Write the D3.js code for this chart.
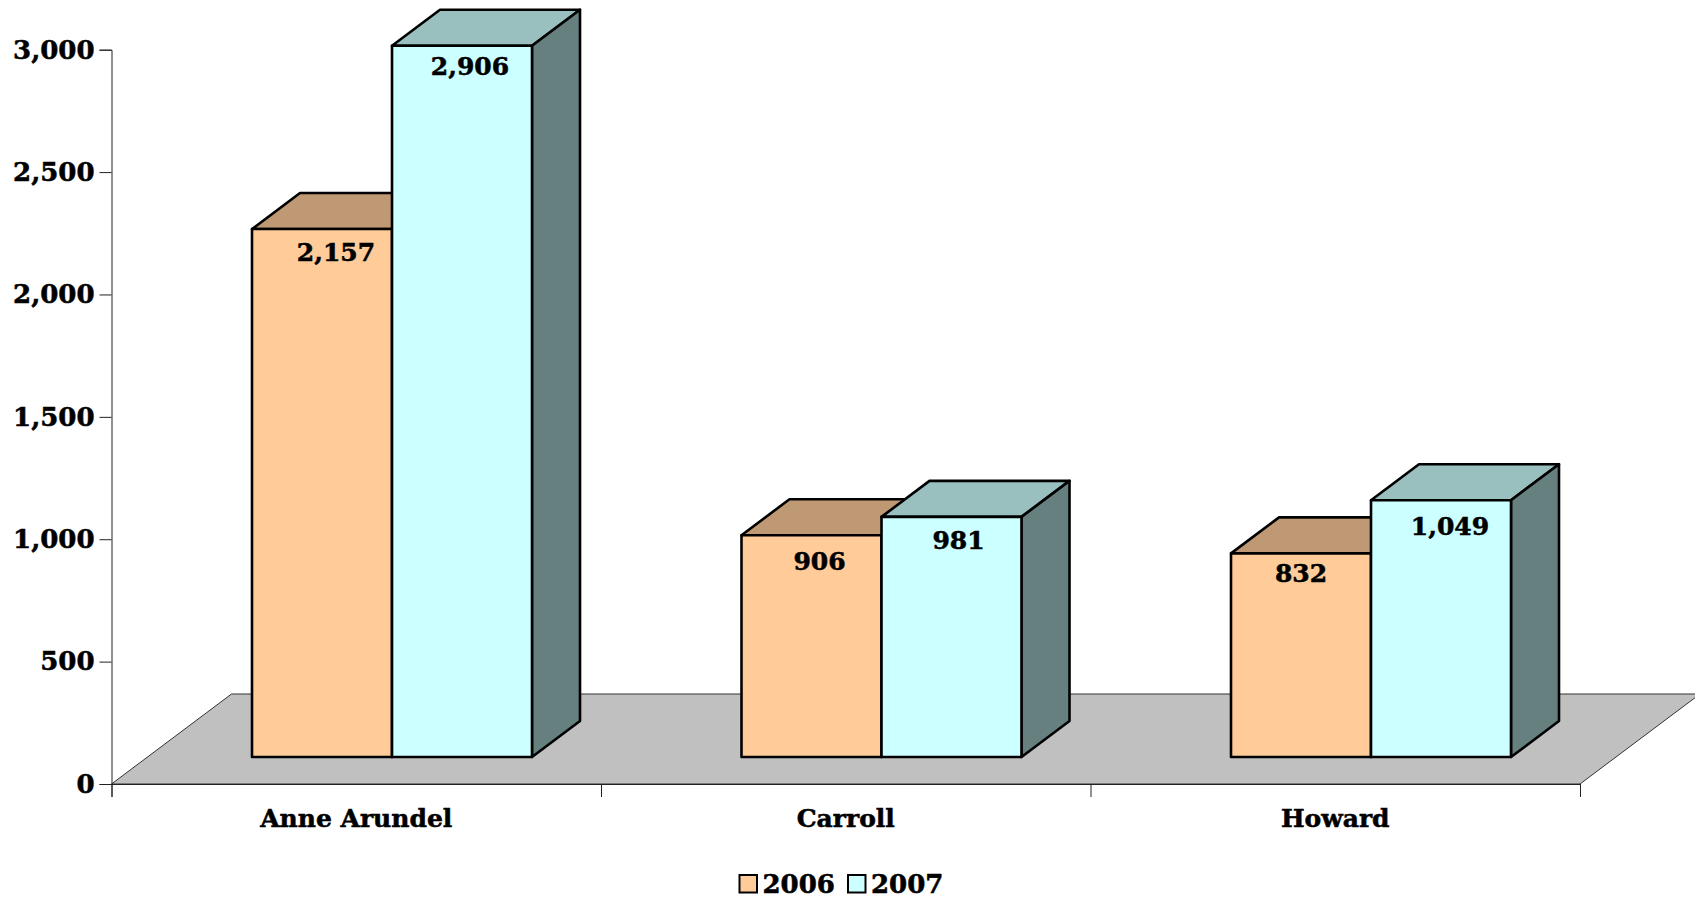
<!DOCTYPE html>
<html><head><meta charset="utf-8">
<script src="https://cdn.jsdelivr.net/npm/d3@7"></script>
<style>
html,body{margin:0;padding:0;background:#fff;overflow:hidden}
svg{display:block}
text{font-family:"DejaVu Serif",serif;font-weight:700;fill:#000;stroke:#000;stroke-width:0.55px}
</style></head><body>
<script>
const categories = ["Anne Arundel", "Carroll", "Howard"];
const seriesNames = ["2006", "2007"];
const values2006 = [2157, 906, 832];
const values2007 = [2906, 981, 1049];
const yTicks = [0, 500, 1000, 1500, 2000, 2500, 3000];

const seriesColors = ["#FFCC99", "#CCFFFF"];
const W = 1695, H = 899;
const y0 = 784, y3000 = 49.7, xL = 111.5, xR = 1580;
const floorDx = 120, floorDy = 90;          // oblique floor depth
const frontDx = 36, frontDy = 27;           // gap from axis plane to bar front
const barDx = 48, barDy = 36;               // bar depth
const barW = 140;
// label nudges [series][category] relative to bar centre / top
const nudgeX = [[14, 8, 0], [8, 7, 9]];
const nudgeY = [[23, 26, 20], [20, 23, 26]];

const svg = d3.select("body").append("svg").attr("width", W).attr("height", H);

const x = d3.scaleBand().domain(categories).range([xL, xR]);
const xEdge = d3.scaleLinear().domain([0, categories.length]).range([xL, xR]);
const y = d3.scaleLinear().domain([0, 3000]).range([y0, y3000]);

// floor
svg.append("path")
  .attr("d", d3.line()([[xL, y0], [xL + floorDx, y0 - floorDy], [xR + floorDx, y0 - floorDy], [xR, y0]]) + "Z")
  .attr("fill", "#C0C0C0").attr("stroke", "#333").attr("stroke-width", 1);

// axes
const gy = svg.append("g").attr("transform", `translate(${xL},0)`)
  .call(d3.axisLeft(y).tickValues(yTicks).tickSize(12).tickPadding(5).tickFormat(d3.format(",")));
gy.selectAll("text").attr("font-size", 26).style("font-family", '"DejaVu Serif",serif').style("font-weight", 700);
const gx = svg.append("g").attr("transform", `translate(0,${y0})`)
  .call(d3.axisBottom(xEdge).tickValues(d3.range(categories.length + 1)).tickSize(13).tickFormat(""));
[gy, gx].forEach(g => g.selectAll("path,line").attr("stroke", "#222").attr("stroke-width", 1));

svg.append("g").selectAll("text").data(categories).join("text")
  .attr("x", d => x(d) + x.bandwidth() / 2)
  .attr("y", 818)
  .attr("dy", "0.36em")
  .attr("text-anchor", "middle")
  .attr("font-size", 25)
  .text(d => d);

// bars
const rows = [values2006, values2007];
const fmt = d3.format(",");
const groupOffset = 140.5;
const shade = (c, k) => { const r = d3.rgb(c); return d3.rgb(r.r * k, r.g * k, r.b * k).formatHex(); };
const line = d3.line();
rows.forEach((vals, s) => {
  const g = svg.append("g").selectAll("g").data(vals).join("g");
  g.each(function (v, i) {
    const left = x(categories[i]) + groupOffset + s * barW;
    const right = left + barW;
    const base = y(0) - frontDy;
    const top = y(v) - frontDy;
    const sel = d3.select(this).attr("stroke", "#000").attr("stroke-width", 2.6).attr("stroke-linejoin", "round");
    sel.append("path").attr("fill", shade(seriesColors[s], 0.75))
      .attr("d", line([[left, top], [left + barDx, top - barDy], [right + barDx, top - barDy], [right, top]]) + "Z");
    sel.append("path").attr("fill", shade(seriesColors[s], 0.5))
      .attr("d", line([[right, top], [right + barDx, top - barDy], [right + barDx, base - barDy], [right, base]]) + "Z");
    sel.append("path").attr("fill", seriesColors[s])
      .attr("d", line([[left, top], [right, top], [right, base], [left, base]]) + "Z");
  });
});
// value labels on top of everything
rows.forEach((vals, s) => {
  svg.append("g").selectAll("text").data(vals).join("text")
    .attr("x", (v, i) => x(categories[i]) + groupOffset + s * barW + barW / 2 + nudgeX[s][i])
    .attr("y", (v, i) => y(v) - frontDy + nudgeY[s][i])
    .attr("dy", "0.36em").attr("text-anchor", "middle").attr("font-size", 25)
    .text(v => fmt(v));
});

// legend
const legX = [739.5, 848];
const leg = svg.append("g").selectAll("g").data(seriesNames).join("g")
  .attr("transform", (d, i) => `translate(${legX[i]},875)`);
leg.append("rect").attr("width", 17.5).attr("height", 17.5)
  .attr("fill", (d, i) => seriesColors[i]).attr("stroke", "#000").attr("stroke-width", 2);
leg.append("text").attr("x", 23).attr("y", 8.5).attr("dy", "0.36em").attr("font-size", 26).text(d => d);
</script>
</body></html>
